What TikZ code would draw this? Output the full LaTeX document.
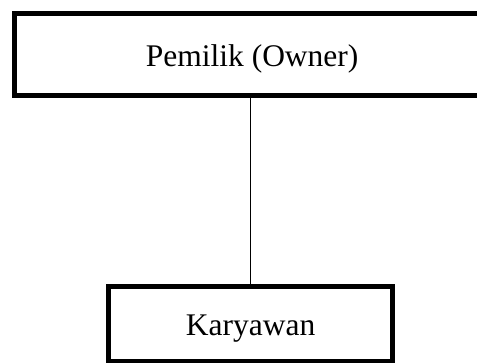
\documentclass[tikz,border=0pt]{standalone}
\usepackage{fontspec}
\setmainfont{Liberation Serif}
\begin{document}
\begin{tikzpicture}[x=1pt,y=-1pt,
  orgbox/.style={draw=black, line width=4.7pt, rectangle, inner sep=0pt, outer sep=0pt,
    font=\fontsize{31.5}{38}\selectfont, text height=28.35pt, text depth=5.7pt},
  link/.style={draw=black, line width=1.3pt}]
\useasboundingbox (0,0) rectangle (477,362);
\node[orgbox, minimum width=475.7pt, minimum height=82pt] (owner) at (252.15,54.7) {Pemilik (Owner)};
\node[orgbox, minimum width=284.1pt, minimum height=75.5pt, text height=28pt, text depth=6pt] (karyawan) at (250.55,324.05) {Karyawan};
\draw[link] (karyawan.north |- owner.south) -- (karyawan.north);
\end{tikzpicture}
\end{document}
